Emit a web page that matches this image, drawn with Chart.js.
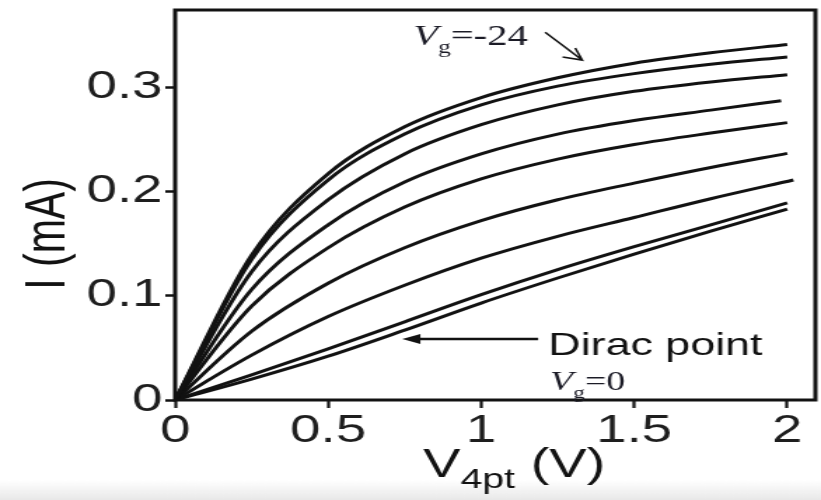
<!DOCTYPE html>
<html>
<head>
<meta charset="utf-8">
<script src="https://cdn.jsdelivr.net/npm/chart.js@4.4.1/dist/chart.umd.min.js"></script>
<style>
  html, body { margin: 0; padding: 0; background: #fff; overflow: hidden; }
</style>
</head>
<body>
<!-- drawn narrow, shown wide -->
<canvas id="ivChart" width="586" height="500" style="display:block;width:821px;height:500px"></canvas>
<script>
// bias points along V_4pt (V)
const vPoints = [0, 0.25, 0.5, 0.75, 1, 1.25, 1.5, 1.75, 2];
// last sweep point of each trace
const vEnd = [2, 2, 2, 1.98, 2, 2, 2.02, 2, 2];

// current (mA), from V_g = -24 at the top down to the Dirac point V_g = 0
const iTrace1 = [0, 0.139, 0.217, 0.262, 0.290, 0.309, 0.323, 0.333, 0.341];
const iTrace2 = [0, 0.135, 0.211, 0.255, 0.283, 0.301, 0.313, 0.322, 0.329];
const iTrace3 = [0, 0.123, 0.192, 0.236, 0.264, 0.283, 0.296, 0.305, 0.312];
const iTrace4 = [0, 0.106, 0.168, 0.209, 0.236, 0.255, 0.268, 0.278, 0.287];
const iTrace5 = [0, 0.090, 0.146, 0.185, 0.212, 0.231, 0.245, 0.256, 0.266];
const iTrace6 = [0, 0.066, 0.112, 0.146, 0.172, 0.192, 0.208, 0.223, 0.2365];
const iTrace7 = [0, 0.043, 0.080, 0.110, 0.136, 0.157, 0.175, 0.193, 0.211];
const iTrace8 = [0, 0.024, 0.049, 0.075, 0.101, 0.125, 0.147, 0.168, 0.189];
const iTrace9 = [0, 0.020, 0.042, 0.067, 0.093, 0.117, 0.140, 0.162, 0.183];

const traces = [iTrace1, iTrace2, iTrace3, iTrace4, iTrace5, iTrace6, iTrace7, iTrace8, iTrace9];

const xTicks = [0, 0.5, 1, 1.5, 2];
const xTickLabels = ['0', '0.5', '1', '1.5', '2'];
const yTicks = [0, 0.1, 0.2, 0.3];
const yTickLabels = ['0', '0.1', '0.2', '0.3'];

const SANS = '"Liberation Sans", Arial, Helvetica, sans-serif';
const SERIF = '"Liberation Serif", "Times New Roman", serif';
const INK = '#121212';

const datasets = traces.map((vals, k) => ({
  data: vals.map((v, i) => ({ x: i === vals.length - 1 ? vEnd[k] : vPoints[i], y: v })),
  borderColor: INK,
  borderWidth: 3,
  pointRadius: 0,
  cubicInterpolationMode: 'monotone',
  fill: false
}));

// write text pieces one after another (for subscripts)
function drawRun(ctx, x, y, parts) {
  let cx = x;
  parts.forEach(p => {
    ctx.font = p.font;
    ctx.fillText(p.text, cx, y + (p.dy || 0));
    cx += ctx.measureText(p.text).width;
  });
}

const annotations = {
  id: 'annotations',
  beforeDraw(chart) {
    const { ctx, width, height } = chart;
    ctx.save();
    const g = ctx.createLinearGradient(0, height - 20, 0, height);
    g.addColorStop(0, 'rgba(232,232,232,0)');
    g.addColorStop(1, 'rgba(232,232,232,1)');
    ctx.fillStyle = g;
    ctx.fillRect(0, height - 20, width, 20);
    ctx.restore();
  },
  afterDraw(chart) {
    const { ctx, chartArea: a, scales: { x, y } } = chart;
    ctx.save();

    // frame
    ctx.strokeStyle = INK;
    ctx.lineWidth = 3;
    ctx.strokeRect(a.left, a.top, a.right - a.left, a.bottom - a.top);

    ctx.fillStyle = INK;
    ctx.textAlign = 'left';
    ctx.textBaseline = 'alphabetic';

    // V_g = -24 label and arrow
    ctx.fillStyle = '#1b1b26';
    drawRun(ctx, x.getPixelForValue(0.778), y.getPixelForValue(0.340), [
      { text: 'V', font: 'italic 29px ' + SERIF },
      { text: 'g', font: '18px ' + SERIF, dy: 8 },
      { text: '=-24', font: '29px ' + SERIF }
    ]);
    const ax0 = x.getPixelForValue(1.209), ay0 = y.getPixelForValue(0.3527);
    const ax1 = x.getPixelForValue(1.330), ay1 = y.getPixelForValue(0.326);
    ctx.strokeStyle = INK;
    ctx.lineWidth = 1.6;
    ctx.beginPath();
    ctx.moveTo(ax0, ay0);
    ctx.lineTo(ax1, ay1);
    ctx.moveTo(ax1 - 5, ay1 - 12);
    ctx.lineTo(ax1, ay1);
    ctx.lineTo(ax1 - 14, ay1 - 3);
    ctx.stroke();

    // Dirac point label and arrow
    ctx.fillStyle = INK;
    ctx.font = '32px ' + SANS;
    ctx.fillText('Dirac point', x.getPixelForValue(1.219), y.getPixelForValue(0.0431));
    const dy = y.getPixelForValue(0.0585);
    const dx0 = x.getPixelForValue(1.186), dx1 = x.getPixelForValue(0.742);
    ctx.lineWidth = 2.6;
    ctx.beginPath();
    ctx.moveTo(dx0, dy);
    ctx.lineTo(dx1 + 10, dy);
    ctx.stroke();
    ctx.beginPath();
    ctx.moveTo(dx1, dy);
    ctx.lineTo(dx1 + 13, dy - 5);
    ctx.lineTo(dx1 + 13, dy + 5);
    ctx.closePath();
    ctx.fill();

    // V_g = 0
    ctx.fillStyle = '#1b1b26';
    drawRun(ctx, x.getPixelForValue(1.225), y.getPixelForValue(0.0096), [
      { text: 'V', font: 'italic 27px ' + SERIF },
      { text: 'g', font: '17px ' + SERIF, dy: 8 },
      { text: '=0', font: '27px ' + SERIF }
    ]);

    // axis titles
    ctx.fillStyle = INK;
    drawRun(ctx, a.left + 177, a.bottom + 77, [
      { text: 'V', font: '40px ' + SANS },
      { text: '4pt', font: '28px ' + SANS, dy: 11 },
      { text: ' (V)', font: '40px ' + SANS }
    ]);
    ctx.save();
    ctx.translate(45.7, 234);
    ctx.rotate(-Math.PI / 2);
    ctx.textAlign = 'center';
    ctx.font = '41px ' + SANS;
    ctx.fillText('I (mA)', 0, 0);
    ctx.restore();

    ctx.restore();
  }
};

new Chart(document.getElementById('ivChart'), {
  type: 'line',
  data: { datasets: datasets },
  options: {
    responsive: false,
    animation: false,
    events: [],
    layout: { padding: { left: 0, top: 10, right: 4, bottom: 0 } },
    plugins: {
      legend: { display: false },
      tooltip: { enabled: false }
    },
    scales: {
      x: {
        type: 'linear',
        min: 0,
        max: 2.092,
        afterBuildTicks: (axis) => { axis.ticks = xTicks.map(v => ({ value: v })); },
        afterFit: (axis) => {
          axis.height = 100;
          axis.paddingLeft = 0;
          axis.paddingRight = 0;
        },
        border: { display: false },
        grid: { drawOnChartArea: false, drawTicks: true, tickLength: 8, tickWidth: 2.2, tickColor: INK },
        ticks: {
          padding: 0,
          maxRotation: 0,
          color: '#1e1e1e',
          font: { family: SANS, size: 39 },
          callback: (value) => xTickLabels[xTicks.indexOf(value)]
        }
      },
      y: {
        min: 0,
        max: 0.374,
        afterBuildTicks: (axis) => { axis.ticks = yTicks.map(v => ({ value: v })); },
        afterFit: (axis) => {
          axis.width = 125;
          axis.paddingTop = 0;
          axis.paddingBottom = 0;
        },
        border: { display: false },
        grid: { drawOnChartArea: false, drawTicks: true, tickLength: 7, tickWidth: 2.5, tickColor: INK },
        ticks: {
          padding: 2,
          color: '#1e1e1e',
          font: { family: SANS, size: 39 },
          callback: (value) => yTickLabels[yTicks.indexOf(value)]
        }
      }
    }
  },
  plugins: [annotations]
});
</script>
</body>
</html>
